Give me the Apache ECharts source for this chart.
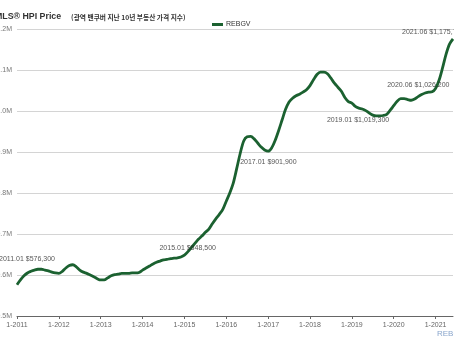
<!DOCTYPE html>
<html>
<head>
<meta charset="utf-8">
<script src="https://cdn.jsdelivr.net/npm/echarts@6/dist/echarts.min.js"></script>
<style>
  html, body { margin: 0; padding: 0; background: #fff; }
  #chart { width: 454px; height: 341px; }
</style>
</head>
<body>
<div id="chart"></div>
<script>
// Monthly benchmark price, thousands of dollars, 2011-01 .. 2021-06
const startYear = 2011;
const prices = [
  576.3, 588, 598, 605, 609, 612, 614, 614, 612, 610, 607, 605,
  604, 609, 617, 623, 625, 620, 612, 607, 604, 600, 596, 591,
  588, 588, 593, 598, 601, 602, 604, 604, 604, 605, 605, 606,
  612, 617, 622, 627, 631, 634, 637, 638, 640, 641, 642, 644,
  648.5, 657, 667, 677, 687, 695, 704, 712, 725, 737, 748, 760,
  780, 800, 824, 860, 897, 927, 937, 938, 932, 922, 912, 905,
  901.9, 910, 928, 952, 978, 1004, 1022, 1031, 1037, 1041, 1046, 1052,
  1062, 1076, 1089, 1095, 1095, 1091, 1080, 1068, 1058, 1048, 1033, 1023,
  1019.3, 1011, 1007, 1005, 1001, 995, 990, 988, 988, 989, 992, 1002,
  1013, 1024, 1030, 1030, 1028, 1026.2, 1029, 1035, 1040, 1044, 1046, 1047,
  1055, 1075, 1105, 1138, 1163, 1175.7
];

// Month indices that carry a price callout
const calloutIdx = [0, 48, 72, 96, 113, 125];
const calloutOffset = [[-18, -26], [-25, -7], [-28, 11], [-25, 17], [-24, -15], [-51, -7]];

// Category labels "YYYY-MM"
const months = prices.map((_, i) => {
  const y = startYear + Math.floor(i / 12);
  const m = (i % 12) + 1;
  return y + '-' + (m < 10 ? '0' + m : m);
});

const fmtMoney = v => '$' + Math.round(v * 1000).toLocaleString('en-US');
const fmtMonth = s => s.replace('-', '.');

const callouts = calloutIdx.map((idx, k) => ({
  value: [idx, prices[idx]],
  label: {
    show: true,
    position: 'right',
    distance: 0,
    offset: calloutOffset[k],
    formatter: fmtMonth(months[idx]) + ' ' + fmtMoney(prices[idx])
  }
}));

const chart = echarts.init(document.getElementById('chart'), null, { renderer: 'canvas' });
chart.setOption({
  animation: false,
  backgroundColor: '#ffffff',
  title: {
    left: -10,
    top: 3,
    text: '{a|MLS® HPI Price}  {b|(광역 밴쿠버 지난 10년 부동산 가격 지수)}',
    textStyle: {
      rich: {
        a: { fontFamily: 'Liberation Sans', fontWeight: 'bold', fontSize: 8.8, color: '#333' },
        b: { fontFamily: 'Noto Sans CJK KR', fontWeight: 'bold', fontSize: 6.7, color: '#333' }
      }
    }
  },
  legend: {
    left: 207,
    top: 16,
    itemWidth: 11,
    itemHeight: 3,
    itemGap: 4,
    icon: 'rect',
    data: ['REBGV'],
    textStyle: { fontFamily: 'Liberation Sans', fontSize: 7, color: '#333', padding: [0, 0, 0, -2] }
  },
  grid: { left: 17, right: 1, top: 29, bottom: 25, containLabel: false, outerBoundsMode: 'none' },
  xAxis: {
    type: 'category',
    data: months,
    boundaryGap: false,
    axisLine: { lineStyle: { color: '#666', width: 1 } },
    axisTick: { interval: 11, length: 3, lineStyle: { color: '#666' } },
    axisLabel: {
      interval: 11,
      margin: 6,
      fontFamily: 'Liberation Sans',
      fontSize: 7,
      color: '#666',
      formatter: s => parseInt(s.slice(5), 10) + '-' + s.slice(0, 4)
    },
    splitLine: { show: false }
  },
  yAxis: {
    type: 'value',
    min: 500,
    max: 1200,
    interval: 100,
    axisLine: { show: false },
    axisTick: { show: false },
    axisLabel: {
      margin: 5,
      fontFamily: 'Liberation Sans',
      fontSize: 7,
      color: '#777',
      formatter: v => '$' + (v / 1000).toFixed(1) + 'M'
    },
    splitLine: { lineStyle: { color: '#d4d4d4', width: 1 } }
  },
  series: [
    {
      name: 'REBGV',
      type: 'line',
      data: prices,
      showSymbol: false,
      smooth: 0.3,
      itemStyle: { color: '#1b6130' },
      lineStyle: { color: '#1b6130', width: 2.8 }
    },
    {
      name: 'callouts',
      type: 'scatter',
      data: callouts,
      symbolSize: 0.1,
      itemStyle: { color: 'rgba(0,0,0,0)' },
      label: { fontFamily: 'Liberation Sans', fontSize: 7, color: '#2a2a2a' },
      z: 5
    }
  ],
  graphic: [
    {
      type: 'text',
      left: 437,
      top: 330,
      style: { text: 'REBGV', fontFamily: 'Liberation Sans', fontSize: 8, fill: '#8aa6cc' }
    }
  ]
});
</script>
</body>
</html>
